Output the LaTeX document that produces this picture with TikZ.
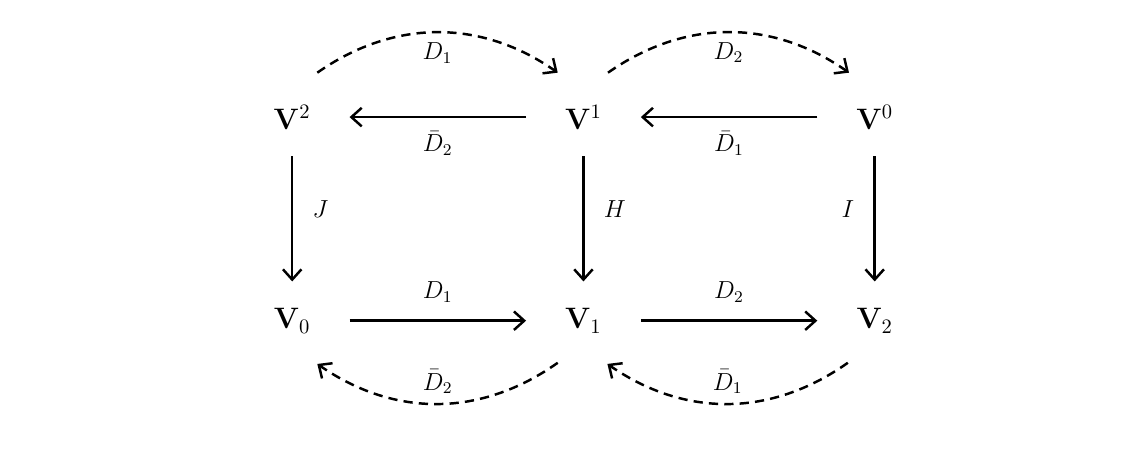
\documentclass[tikz,border=0pt]{standalone}
\usepackage{amsmath,amssymb}
\usetikzlibrary{arrows.meta,positioning,calc}

\begin{document}
\begin{tikzpicture}[font=\large,
    space/.style={font=\Large,minimum width=1.95cm,minimum height=1.33cm,inner sep=0pt},
    map/.style={very thick,-{Straight Barb[length=5pt,width=9pt]}},
    dmap/.style={map,dash pattern=on 4.5pt off 3pt,bend left=35}]
  \useasboundingbox (0,0) rectangle (19.2,7.734);
  % the six spaces
  \node[space] (V2) at (5,5.73) {$\mathbf{V}^2$};
  \node[space,right=3.02cm of V2] (V1) {$\mathbf{V}^1$};
  \node[space,right=3.02cm of V1] (V0) {$\mathbf{V}^0$};
  \node[space,below=2.14cm of V2] (W0) {$\mathbf{V}_0$};
  \node[space,below=2.14cm of V1] (W1) {$\mathbf{V}_1$};
  \node[space,below=2.14cm of V0] (W2) {$\mathbf{V}_2$};

  \draw[map] (V1) -- node[below=3pt] {$\bar{D}_2$} (V2);
  \draw[map] (V0) -- node[below=3pt] {$\bar{D}_1$} (V1);
  \draw[map] (W0) -- node[above=5pt] {$D_1$} (W1);
  \draw[map] (W1) -- node[above=5pt] {$D_2$} (W2);
  \draw[map] (V2) -- node[pos=0.42,right=6pt] {$J$} (W0);
  \draw[map] (V1) -- node[pos=0.42,right=6pt] {$H$} (W1);
  \draw[map] (V0) -- node[pos=0.42,left=6pt] {$I$} (W2);

  % dashed arcs
  \coordinate (a1) at ($(V2)+(0.43,0.76)$);
  \coordinate (a2) at ($(V1)+(-0.44,0.76)$);
  \coordinate (a3) at ($(V1)+(0.42,0.76)$);
  \coordinate (a4) at ($(V0)+(-0.44,0.76)$);
  \coordinate (b1) at ($(W1)+(-0.44,-0.72)$);
  \coordinate (b2) at ($(W0)+(0.43,-0.74)$);
  \coordinate (b3) at ($(W2)+(-0.46,-0.72)$);
  \coordinate (b4) at ($(W1)+(0.41,-0.74)$);
  \draw[dmap] (a1) to node[below=1pt] {$D_1$} (a2);
  \draw[dmap] (a3) to node[below=1pt] {$D_2$} (a4);
  \draw[dmap] (b1) to node[above=1pt] {$\bar{D}_2$} (b2);
  \draw[dmap] (b3) to node[above=1pt] {$\bar{D}_1$} (b4);
\end{tikzpicture}
\end{document}
